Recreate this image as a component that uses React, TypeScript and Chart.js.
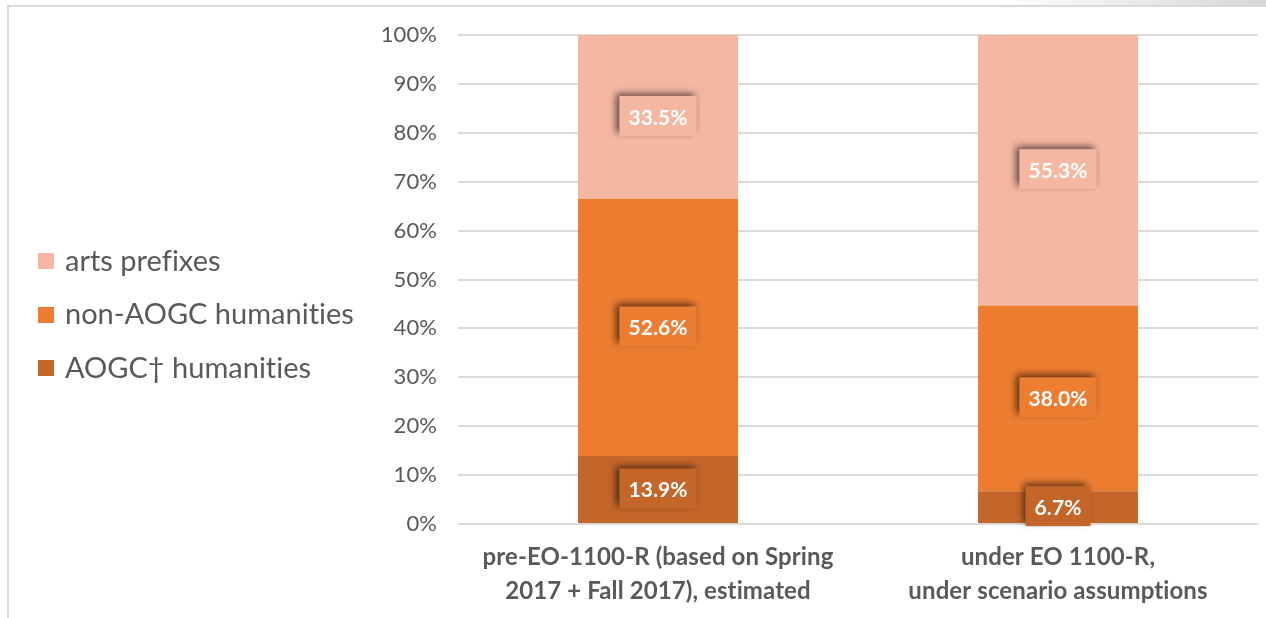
import React, { useEffect, useRef } from "react";
import { Chart, registerables } from "chart.js";

Chart.register(...registerables);

const categories: string[][] = [
  ["pre-EO-1100-R (based on Spring", "2017 + Fall 2017), estimated"],
  ["under EO 1100-R,", "under scenario assumptions"],
];
const aogcHumanities = [13.9, 6.7];
const nonAogcHumanities = [52.6, 38.0];
const artsPrefixes = [33.5, 55.3];
const seriesNames = ["AOGC\u2020 humanities", "non-AOGC humanities", "arts prefixes"];
const seriesColors = ["#C4652A", "#ED7D31", "#F4B8A2"];
const seriesValues = [aogcHumanities, nonAogcHumanities, artsPrefixes];
const yTicks = [0, 10, 20, 30, 40, 50, 60, 70, 80, 90, 100];

const FONT = "Lato, 'Open Sans', sans-serif";
const PLOT_LEFT = 458;
const SPACING = "0.1px";

const spacingPlugin = {
  id: "spacing",
  beforeUpdate(chart: any) {
    chart.ctx.letterSpacing = SPACING;
  },
  beforeDraw(chart: any) {
    chart.ctx.letterSpacing = SPACING;
  },
};

const labelPlugin = {
  id: "boxLabels",
  afterDatasetsDraw(chart: any) {
    const ctx = chart.ctx;
    chart.data.datasets.forEach((ds: any, di: number) => {
      const meta = chart.getDatasetMeta(di);
      meta.data.forEach((bar: any, i: number) => {
        const v = ds.data[i];
        const text = v.toFixed(1) + "%";
        const cx = bar.x;
        const cy = (bar.y + bar.base) / 2;
        ctx.save();
        ctx.font = `bold 21px ${FONT}`;
        const w = ctx.measureText(text).width + 18;
        const h = 40;
        ctx.shadowColor = "rgba(0,0,0,0.6)";
        ctx.shadowBlur = 7;
        ctx.shadowOffsetX = -3;
        ctx.shadowOffsetY = -3;
        ctx.fillStyle = ds.backgroundColor;
        ctx.fillRect(cx - w / 2, cy - h / 2 - 1, w, h);
        ctx.restore();
        ctx.save();
        ctx.font = `bold 21px ${FONT}`;
        ctx.fillStyle = "#FFFFFF";
        ctx.textAlign = "center";
        ctx.textBaseline = "middle";
        ctx.fillText(text, cx, cy + 1);
        ctx.restore();
      });
    });
  },
};

function Legend() {
  // legend shown top-to-bottom in reverse series order
  const order = [2, 1, 0];
  const centers = [261, 314.5, 368];
  return (
    <>
      {order.map((k, j) => (
        <div
          key={k}
          style={{
            position: "absolute",
            left: 38,
            top: centers[j] - 16,
            height: 32,
            display: "flex",
            alignItems: "center",
            whiteSpace: "nowrap",
          }}
        >
          <span style={{ display: "inline-block", width: 16, height: 16, background: seriesColors[k], marginRight: 11 }} />
          <span
            style={{
              fontFamily: FONT,
              fontSize: 29,
              lineHeight: "32px",
              color: "#595959",
              fontVariantLigatures: "none",
              position: "relative",
              top: -1.5,
            }}
          >
            {seriesNames[k]}
          </span>
        </div>
      ))}
    </>
  );
}

export default function App() {
  const ref = useRef<HTMLCanvasElement>(null);
  useEffect(() => {
    if (!ref.current) return;
    const chart = new Chart(ref.current, {
      type: "bar",
      data: {
        labels: categories,
        datasets: seriesNames.map((name, k) => ({
          label: name,
          data: seriesValues[k],
          backgroundColor: seriesColors[k],
          borderWidth: 0,
          categoryPercentage: 1,
          barPercentage: 0.4,
        })),
      },
      options: {
        animation: false,
        responsive: false,
        maintainAspectRatio: false,
        layout: { padding: { left: 0, right: 8, top: 35, bottom: 0 } },
        plugins: {
          tooltip: { enabled: false },
          legend: { display: false },
        },
        scales: {
          x: {
            stacked: true,
            grid: { display: false, drawTicks: false },
            border: { display: false },
            ticks: {
              color: "#595959",
              padding: 16,
              font: { family: FONT, size: 24, weight: "bold", lineHeight: 34 / 24 },
            },
            afterFit: (scale: any) => {
              scale.height = 94;
            },
          },
          y: {
            stacked: true,
            min: 0,
            max: 100,
            afterBuildTicks: (scale: any) => {
              scale.ticks = yTicks.map((v) => ({ value: v }));
            },
            grid: { color: "#D9D9D9", lineWidth: 2, drawTicks: false },
            border: { display: false },
            ticks: {
              color: "#595959",
              padding: 21,
              font: { family: FONT, size: 22 },
              callback: (v: any) => v + "%",
            },
            afterFit: (scale: any) => {
              scale.width = PLOT_LEFT;
            },
          },
        },
      },
      plugins: [spacingPlugin, labelPlugin],
    });
    return () => chart.destroy();
  }, []);

  return (
    <div style={{ position: "fixed", left: 0, top: 0, width: 1266, height: 618, background: "#fff" }}>
      <div
        style={{
          position: "absolute",
          left: 1000,
          top: 0,
          width: 266,
          height: 5,
          background: "linear-gradient(to right, rgba(217,217,217,0), #d6d6d6)",
        }}
      />
      <div
        style={{
          position: "absolute",
          left: 7,
          top: 5,
          width: 1259,
          height: 613,
          borderTop: "2px solid #d9d9d9",
          borderLeft: "2px solid #d9d9d9",
          boxSizing: "border-box",
        }}
      />
      <canvas ref={ref} width={1266} height={618} style={{ position: "absolute", left: 0, top: 0, width: 1266, height: 618 }} />
      <Legend />
    </div>
  );
}
